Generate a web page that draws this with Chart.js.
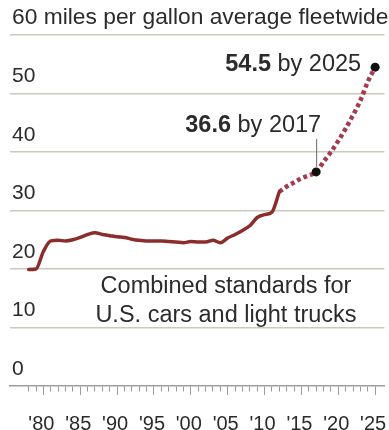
<!DOCTYPE html>
<html lang="en">
<head>
<meta charset="UTF-8">
<title>Fuel economy standards</title>
<script src="https://cdn.jsdelivr.net/npm/chart.js"></script>
<style>
  body { margin: 0; background: #fff; }
  #wrap { position: relative; width: 389px; height: 430px; }
</style>
</head>
<body>
<div id="wrap"><canvas id="grafico"></canvas></div>
<script>
  // Combined standards for U.S. cars and light trucks (mpg)
  const yearsPast = [1978, 1979, 1980, 1981, 1982, 1983, 1984, 1985, 1986, 1987,
                     1988, 1989, 1990, 1991, 1992, 1993, 1994, 1995, 1996, 1997,
                     1998, 1999, 2000, 2001, 2002, 2003, 2004, 2005, 2006, 2007,
                     2008, 2009, 2010, 2011, 2012];
  const mpgPast = [19.9, 20.0, 23.0, 24.8, 24.9, 24.8, 25.0, 25.4, 25.9, 26.2,
                   25.9, 25.7, 25.5, 25.4, 25.1, 24.9, 24.8, 24.8, 24.8, 24.7,
                   24.6, 24.5, 24.7, 24.6, 24.6, 24.9, 24.5, 25.3, 25.9, 26.6,
                   27.4, 28.8, 29.3, 29.7, 33.2];
  const yearsFuture = [2012, 2013, 2014, 2015, 2016, 2017, 2018, 2019, 2020,
                       2021, 2022, 2023, 2024, 2025];
  const mpgFuture = [33.2, 34.1, 34.8, 35.5, 36.0, 36.6, 38.3, 40.0, 41.9,
                     44.0, 46.3, 48.8, 52.0, 54.5];
  const markedYears = [2017, 2025];

  const yTicks = [0, 10, 20, 30, 40, 50, 60];
  const yTitle = 'miles per gallon average fleetwide';
  const xLabelYears = [1980, 1985, 1990, 1995, 2000, 2005, 2010, 2015, 2020, 2025];
  const xLabels = ["'80", "'85", "'90", "'95", "'00", "'05", "'10", "'15", "'20", "'25"];
  const firstTickYear = 1978, lastTickYear = 2025;

  const noteText = ['Combined standards for', 'U.S. cars and light trucks'];

  const FONT = "'Liberation Sans', Arial, Helvetica, sans-serif";
  const TEXT = '#2b2b2b';

  const puntos = (xs, ys) => xs.map((x, i) => ({ x: x, y: ys[i] }));

  // texts drawn over the chart
  const notas = {
    id: 'notas',
    afterDatasetsDraw(chart) {
      const { ctx, scales: { x, y } } = chart;
      ctx.save();
      ctx.fillStyle = TEXT;
      ctx.textBaseline = 'alphabetic';

      // callout labels: bold value + " by year"
      markedYears.forEach((yr, i) => {
        const v = mpgFuture[yearsFuture.indexOf(yr)];
        const px = x.getPixelForValue(yr), py = y.getPixelForValue(v);
        let right, base;
        if (i === 0) {
          right = px + 5; base = py - 40;
          ctx.strokeStyle = '#666';
          ctx.lineWidth = 1;
          ctx.beginPath();
          ctx.moveTo(px + 0.5, py - 33);
          ctx.lineTo(px + 0.5, py - 5);
          ctx.stroke();
        } else {
          right = px - 14; base = py + 4;
        }
        const rest = ' by ' + yr;
        ctx.font = '23.5px ' + FONT;
        ctx.textAlign = 'right';
        ctx.fillText(rest, right, base);
        const w = ctx.measureText(rest).width;
        ctx.font = 'bold 23.5px ' + FONT;
        ctx.fillText(v.toFixed(1), right - w, base);
      });

      // series note
      ctx.font = '23.5px ' + FONT;
      ctx.textAlign = 'center';
      ctx.fillText(noteText[0], 226, 293);
      ctx.fillText(noteText[1], 226, 322);
      ctx.restore();
    }
  };

  new Chart(document.getElementById('grafico'), {
    type: 'line',
    data: {
      datasets: [
        {
          data: puntos(yearsPast, mpgPast),
          borderColor: '#8c2d2d',
          borderWidth: 3.5,
          pointRadius: 0,
          cubicInterpolationMode: 'monotone',
          borderCapStyle: 'round'
        },
        {
          data: puntos(yearsFuture, mpgFuture),
          borderColor: '#a33c4e',
          borderWidth: 4.5,
          borderDash: [4, 3],
          cubicInterpolationMode: 'monotone',
          pointRadius: ctx => markedYears.includes(yearsFuture[ctx.dataIndex]) ? 4.5 : 0,
          pointBackgroundColor: '#111',
          pointBorderColor: '#111',
          pointBorderWidth: 0
        }
      ]
    },
    options: {
      responsive: true,
      maintainAspectRatio: false,
      animation: false,
      events: [],
      layout: { padding: { left: 6, top: 35, right: 0, bottom: 0 } },
      plugins: { legend: { display: false }, tooltip: { enabled: false } },
      scales: {
        x: {
          type: 'linear',
          min: 1975.47,
          max: 2026.27,
          afterBuildTicks: s => {
            const t = [];
            for (let yr = firstTickYear; yr <= lastTickYear; yr++) t.push({ value: yr });
            s.ticks = t;
          },
          afterFit: s => { s.paddingLeft = 0; s.paddingRight = 0; s.height = 44; },
          border: { display: true, color: '#9e9e9e', width: 1.5 },
          grid: {
            drawOnChartArea: false,
            tickLength: 9,
            tickColor: '#9a9a9a',
            tickWidth: 1,
            tickBorderDash: ctx => (ctx.tick && ctx.tick.value % 5 === 0) ? [] : [5, 30]
          },
          ticks: {
            autoSkip: false,
            maxRotation: 0,
            padding: 17,
            labelOffset: -2,
            color: TEXT,
            font: { family: FONT, size: 20 },
            callback: v => {
              const k = xLabelYears.indexOf(v);
              return k >= 0 ? xLabels[k] : '';
            }
          }
        },
        y: {
          min: 0,
          max: 60,
          afterBuildTicks: s => { s.ticks = yTicks.map(v => ({ value: v })); },
          afterFit: s => { s.paddingTop = 0; s.paddingBottom = 0; },
          border: { display: false },
          grid: {
            drawTicks: false,
            color: ctx => ctx.tick && ctx.tick.value === 0 ? 'rgba(0,0,0,0)' : '#c9c9bd',
            lineWidth: 1.5
          },
          ticks: {
            mirror: true,
            padding: 2,
            labelOffset: -17,
            color: TEXT,
            font: ctx => ({ family: FONT, size: (ctx.tick && ctx.tick.value === 60) ? 22.8 : 21 }),
            callback: v => v === 60 ? v + ' ' + yTitle : v
          }
        }
      }
    },
    plugins: [notas]
  });
</script>
</body>
</html>
